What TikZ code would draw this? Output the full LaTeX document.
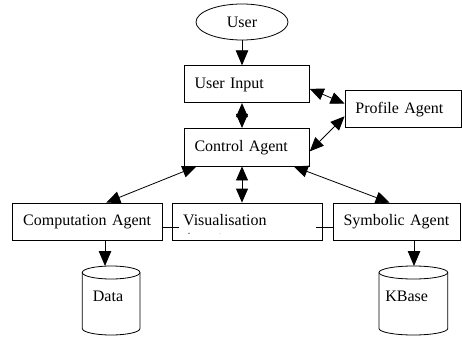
\documentclass[tikz,border=0pt]{standalone}
\usepackage{fontspec}
\setmainfont{Liberation Serif}
\usetikzlibrary{shapes.geometric,arrows.meta,calc}
\begin{document}
\begin{tikzpicture}[x=1pt,y=1pt,line width=0.8pt,
  font=\fontsize{16}{19}\selectfont,
  box/.style={draw, rectangle, inner xsep=10.5pt, inner ysep=0pt, align=left, text height=10.5pt, text depth=2pt},
  arr/.style={-{Triangle[length=15pt,width=12.5pt]}},
  darr/.style={{Triangle[length=14pt,width=12pt]}-{Triangle[length=14pt,width=12pt]}},
  dbtext/.style={anchor=base, inner sep=0pt}
]
\useasboundingbox (0,0) rectangle (462,-337);
\node[draw, ellipse, minimum width=92pt, minimum height=36pt, inner sep=0pt] (user) at (242,-22) {User};
\node[box, minimum width=125.3pt, text width=104.3pt, minimum height=37pt] (ui) at (246.7,-84.2) {User Input};
\node[box, minimum width=125.3pt, text width=104.3pt, minimum height=37.7pt] (ca) at (246.7,-147.2) {Control Agent};
\node[box, minimum width=116.7pt, text width=95.7pt, minimum height=37pt] (pa) at (403.3,-109.2) {Profile Agent};
\node[box, minimum width=149.3pt, text width=128.3pt, minimum height=37pt] (comp) at (87.3,-221.5) {Computation Agent};
\node[box, minimum width=149.6pt, text width=128.6pt, minimum height=37pt] (vis) at (247.5,-221.5) {Visualisation};
\node[box, minimum width=127pt, text width=106pt, minimum height=37pt] (sym) at (396.5,-221.5) {Symbolic Agent};

% cylinders
\draw (82.3,-272.5) -- (82.3,-328.5) arc[start angle=180,end angle=360,x radius=28.85pt,y radius=6.5pt] -- (140,-272.5);
\draw (111.15,-272.5) ellipse [x radius=28.85pt, y radius=6.5pt];
\node[dbtext] (data) at (108,-301.7) {Data};
\draw (379,-272.5) -- (379,-328.5) arc[start angle=180,end angle=360,x radius=34.35pt,y radius=6.5pt] -- (447.7,-272.5);
\draw (413.35,-272.5) ellipse [x radius=34.35pt, y radius=6.5pt];
\node[dbtext] (kbase) at (406.7,-301.7) {KBase};
\coordinate (datatop) at (105,-266);
\coordinate (kbtop) at (414,-266);

% truncated text traces
\fill (189,-233.3) circle (0.6pt);
\fill[gray] (220,-233.3) circle (0.4pt);

% connectors
\draw[arr] (user.south) -- (user.south |- ui.north);
\draw[darr] (user.south |- ui.south) -- (user.south |- ca.north);
\draw[darr] ($(ui.north east)+(0,-23.5)$) -- ($(pa.north west)+(0,-13.3)$);
\draw[darr] ($(ca.north east)+(0,-23.4)$) -- ($(pa.north west)+(0,-26)$);
\draw[darr] ($(ca.south west)+(12.7,0)$) -- ($(comp.north west)+(94,0)$);
\draw[darr] (user.south |- ca.south) -- (user.south |- vis.north);
\draw[darr] ($(ca.south east)+(-16,0)$) -- ($(sym.north west)+(57,0)$);
\draw ($(comp.east)+(0,-6)$) -- ($(vis.west)+(6.5,-6)$);
\draw ($(vis.east)+(-6.5,-6)$) -- ($(sym.west)+(0,-6)$);
\draw[arr] (comp.south -| datatop) -- (datatop);
\draw[arr] (sym.south -| kbtop) -- (kbtop);
\end{tikzpicture}
\end{document}
